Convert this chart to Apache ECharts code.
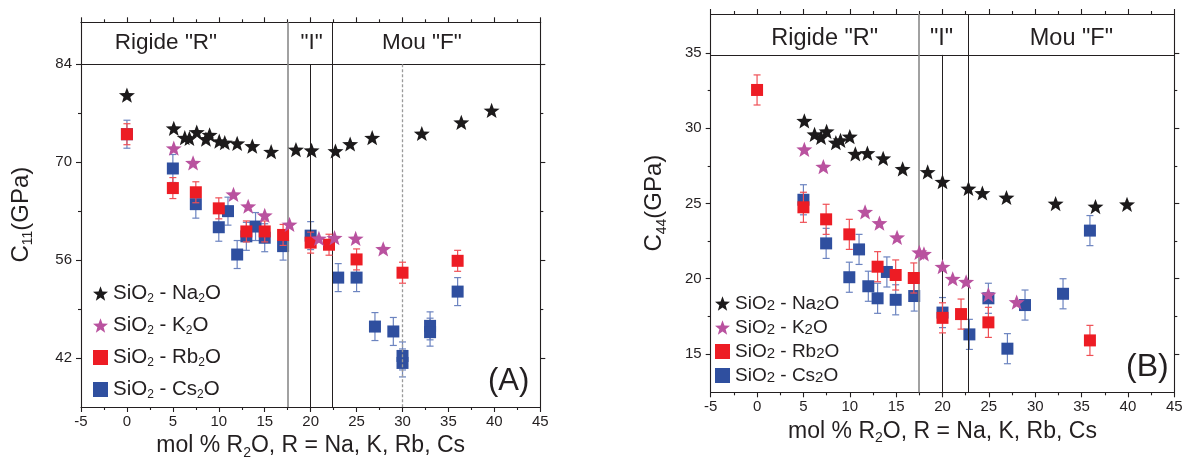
<!DOCTYPE html>
<html><head><meta charset="utf-8">
<script src="https://cdn.jsdelivr.net/npm/echarts@6/dist/echarts.min.js"></script>
<style>html,body{margin:0;padding:0;background:#fff}#c{width:1188px;height:465px}</style>
</head><body><div id="c"></div>
<script>
// ---------- DATA ----------
const seriesNames = ['SiO2 - Na2O', 'SiO2 - K2O', 'SiO2 - Rb2O', 'SiO2 - Cs2O'];
const xTickLabels = [-5, 0, 5, 10, 15, 20, 25, 30, 35, 40, 45];

// Panel A : C11 (GPa)
const naA = [[0,79.6],[5.1,74.85],[6.3,73.5],[6.8,73.4],[7.6,74.3],[8.6,73.3],[9.0,73.9],[10.05,73.0],[10.65,72.8],[12.0,72.7],[13.65,72.3],[15.7,71.5],[18.4,71.8],[20.1,71.7],[22.7,71.6],[24.3,72.6],[26.7,73.5],[32.1,74.1],[36.4,75.7],[39.7,77.4]];
const kA  = [[5.1,72.0],[7.2,69.9],[11.6,65.4],[13.2,63.7],[15.0,62.4],[17.7,61.1],[20.9,59.1],[22.6,59.2],[24.9,59.1],[27.9,57.6]];
const rbA = [[0,74.0],[5.0,66.3],[7.5,65.7],[10.0,63.4],[13.0,60.1],[15.0,60.1],[17.0,59.6],[20.0,58.5],[22.0,58.2],[25.0,56.1],[30.0,54.2],[36.0,55.9]];
const rbErrA = [1.5,1.5,1.5,1.5,1.5,1.5,1.5,1.5,1.5,1.5,1.5,1.5];
const csA = [[0,74.0],[5.0,69.1],[7.5,64.0],[10.0,60.7],[11.0,63.0],[12.0,56.8],[13.0,59.4],[14.0,60.8],[15.0,59.2],[17.0,58.0],[20.0,59.5],[23.0,53.5],[25.0,53.5],[27.0,46.5],[29.0,45.8],[30.0,42.3],[30.0,41.3],[33.0,46.6],[33.0,45.7],[36.0,51.5]];
const csErrA = [2,2,2,2,2,2,2,2,2,2,2,2,2,2,2,2,2,2,2,2];
const yTicksA = [42, 56, 70, 84];
const yMinorA = [49, 63, 77];
const headerA = 84;                 // upper limit of data area (band line)
const bordersA = [17.5, 20, 22.3, 30];  // region borders (mol %)
const regionLabelsA = ['Rigide "R"', '"I"', 'Mou "F"'];

// Panel B : C44 (GPa)
const naB = [[5.1,30.5],[6.2,29.6],[6.9,29.4],[7.5,29.8],[8.5,29.05],[9.0,29.2],[10.0,29.45],[10.6,28.3],[11.9,28.35],[13.6,28.0],[15.7,27.3],[18.4,27.1],[20.0,26.45],[22.8,26.0],[24.3,25.7],[26.9,25.4],[32.2,25.0],[36.5,24.8],[39.9,24.95]];
const kB  = [[5.1,28.6],[7.15,27.45],[11.65,24.45],[13.2,23.7],[15.1,22.75],[17.5,21.75],[18.0,21.65],[20.0,20.8],[21.1,20.0],[22.55,19.8],[24.95,18.95],[28.0,18.45]];
const rbB = [[0,32.55],[5.0,24.75],[7.45,23.95],[9.95,22.95],[13.0,20.8],[14.95,20.25],[16.9,20.05],[20.0,17.4],[22.0,17.65],[24.95,17.1],[35.9,15.9]];
const rbErrB = [1,1,1,1,1,1,1,1,1,1,1];
const csB = [[5.0,25.25],[7.45,22.35],[9.95,20.1],[11.0,21.95],[12.0,19.5],[13.0,18.7],[14.0,20.45],[14.95,18.6],[16.95,18.85],[20.0,17.75],[22.9,16.3],[24.95,18.7],[27.0,15.35],[28.9,18.25],[33.0,19.0],[35.9,23.2]];
const csErrB = [1,1,1,1,1,1,1,1,1,1,1,1,1,1,1,1];
const yTicksB = [15, 20, 25, 30, 35];
const yMinorB = [17.5, 22.5, 27.5, 32.5];
const headerB = 34.88;
const bordersB = [17.4, 20, 22.8];
const regionLabelsB = ['Rigide "R"', '"I"', 'Mou "F"'];

// ---------- STYLE ----------
const FONT = 'Liberation Sans, Arial, sans-serif';
const INK = '#231f20';
const COL = {na:'#1c1a1b', k:'#b9529f', rb:'#ed1c24', cs:'#2f4f9f'};
const ERR = {rb:'#ef4f55', cs:'#6c84c0'};
const STAR = 'path://M50,0L62.34,33.01L97.55,34.55L69.97,56.49L79.39,90.45L50,71L20.61,90.45L30.03,56.49L2.45,34.55L37.66,33.01Z';

const panels = [
  {na:naA,k:kA,rb:rbA,rbErr:rbErrA,cs:csA,csErr:csErrA,yMin:35,yMax:90,ticks:yTicksA,minor:yMinorA,header:headerA,
   borders:bordersA,labels:regionLabelsA,labelX:[4.25,20.1,32.1],labelY:87.1,
   grid:{left:81,right:647.7,top:22.3,bottom:55.7},yName:'{n|C}{s|11}{n|(GPa)}',yNameGap:46,
   lineStyles:[{color:'#8a8a8a',width:1.6,type:'solid',full:true},{color:INK,width:1,type:'solid',full:false},{color:INK,width:1,type:'solid',full:true},{color:'#9a9a9a',width:1.3,type:[3,2],full:false}]},
  {na:naB,k:kB,rb:rbB,rbErr:rbErrB,cs:csB,csErr:csErrB,yMin:12.45,yMax:37.6,ticks:yTicksB,minor:yMinorB,header:headerB,
   borders:bordersB,labels:regionLabelsB,labelX:[7.3,19.9,33.9],labelY:36.0,
   grid:{left:710.7,right:13.7,top:14,bottom:72.7},yName:'{n|C}{s|44}{n|(GPa)}',yNameGap:42,
   lineStyles:[{color:'#8a8a8a',width:1.6,type:'solid',full:true},{color:INK,width:1,type:'solid',full:false},{color:INK,width:1,type:'solid',full:true}]}
];

const axisLineStyle = {color: INK, width: 1.1};
const titleRich = {
  n: {fontSize: 23, fontFamily: FONT, color: INK, lineHeight: 28},
  s: {fontSize: 14, fontFamily: FONT, color: INK, lineHeight: 4, verticalAlign: 'bottom'}
};
const yTitleRich = {
  n: {fontSize: 24, fontFamily: FONT, color: INK, lineHeight: 28},
  s: {fontSize: 14, fontFamily: FONT, color: INK, lineHeight: 4, verticalAlign: 'bottom'}
};

const grids = [], xAxes = [], yAxes = [], series = [];
panels.forEach((p, gi) => {
  grids.push(Object.assign({containLabel:false}, p.grid));
  const xBase = {gridIndex:gi, type:'value', min:-5, max:45, interval:5,
    axisLine:{show:true, onZero:false, lineStyle:axisLineStyle},
    axisTick:{show:true, inside:false, length:5, lineStyle:axisLineStyle},
    minorTick:{show:true, splitNumber:2, length:3, lineStyle:axisLineStyle},
    splitLine:{show:false}, minorSplitLine:{show:false}};
  xAxes.push(Object.assign({}, xBase, {position:'bottom',
    axisLabel:{show:true, margin:7, fontSize:15, fontFamily:FONT, color:INK, customValues:xTickLabels},
    name:'{n|mol % R}{s|2}{n|O, R = Na, K, Rb, Cs}', nameLocation:'middle', nameGap:25,
    nameTextStyle:{rich:titleRich, verticalAlign:'top'}}));
  xAxes.push(Object.assign({}, xBase, {position:'top', axisLabel:{show:false}}));
  const yBase = {gridIndex:gi, type:'value', min:p.yMin, max:p.yMax, splitLine:{show:false}};
  yAxes.push(Object.assign({}, yBase, {position:'left',
    axisLine:{show:true, onZero:false, lineStyle:axisLineStyle},
    axisTick:{show:true, length:5, customValues:p.ticks, lineStyle:axisLineStyle},
    axisLabel:{show:true, margin:9, fontSize:15, fontFamily:FONT, color:INK, customValues:p.ticks},
    name:p.yName, nameLocation:'middle', nameGap:p.yNameGap, nameTextStyle:{rich:yTitleRich}}));
  yAxes.push(Object.assign({}, yBase, {position:'left', axisLine:{show:false, onZero:false},
    axisTick:{show:true, length:3, customValues:p.minor, lineStyle:axisLineStyle}, axisLabel:{show:false}}));
  yAxes.push(Object.assign({}, yBase, {position:'right',
    axisLine:{show:true, onZero:false, lineStyle:axisLineStyle},
    axisTick:{show:true, length:5, customValues:p.ticks, lineStyle:axisLineStyle}, axisLabel:{show:false}}));
  yAxes.push(Object.assign({}, yBase, {position:'right', axisLine:{show:false, onZero:false},
    axisTick:{show:true, length:3, customValues:p.minor, lineStyle:axisLineStyle}, axisLabel:{show:false}}));

  const xi = gi * 2, yi = gi * 4;
  const errSeries = (name, pts, errs, color, z) => ({
    name: name + ' (err)', type:'custom', xAxisIndex:xi, yAxisIndex:yi, z, silent:true,
    data: pts.map((d, i) => [d[0], d[1], errs[i]]),
    encode:{x:0, y:1},
    renderItem(params, api) {
      const x = api.value(0), y = api.value(1), e = api.value(2);
      const t = api.coord([x, y + e]), b = api.coord([x, y - e]);
      const w = 3.5, st = {stroke: color, lineWidth: 1.2};
      return {type:'group', children:[
        {type:'line', shape:{x1:t[0], y1:t[1], x2:b[0], y2:b[1]}, style:st},
        {type:'line', shape:{x1:t[0]-w, y1:t[1], x2:t[0]+w, y2:t[1]}, style:st},
        {type:'line', shape:{x1:b[0]-w, y1:b[1], x2:b[0]+w, y2:b[1]}, style:st}
      ]};
    }
  });
  const scat = (name, pts, symbol, size, color, z) => ({
    name, type:'scatter', xAxisIndex:xi, yAxisIndex:yi, z, data:pts, symbol, symbolSize:size,
    symbolKeepAspect:true, itemStyle:{color, opacity:1}, emphasis:{disabled:true}
  });
  series.push(errSeries(seriesNames[3], p.cs, p.csErr, ERR.cs, 3));
  series.push(scat(seriesNames[3], p.cs, 'rect', 12, COL.cs, 4));
  series.push(errSeries(seriesNames[2], p.rb, p.rbErr, ERR.rb, 5));
  series.push(scat(seriesNames[2], p.rb, 'rect', 12, COL.rb, 6));
  series.push(scat(seriesNames[1], p.k, STAR, 16, COL.k, 7));
  series.push(scat(seriesNames[0], p.na, STAR, 16, COL.na, 8));

  // region borders + header band line + region labels
  const lines = [[{coord:[-5, p.header], lineStyle:{color:INK, width:1.1, type:'solid'}}, {coord:[45, p.header]}]];
  p.borders.forEach((b, i) => {
    const ls = p.lineStyles[i];
    lines.push([{coord:[b, ls.full ? p.yMax : p.header], lineStyle:{color:ls.color, width:ls.width, type:ls.type}}, {coord:[b, p.yMin]}]);
  });
  series.push({type:'scatter', xAxisIndex:xi, yAxisIndex:yi, z:2, data:[], silent:true,
    markLine:{silent:true, symbol:['none','none'], label:{show:false}, data:lines, animation:false},
    markPoint:{silent:true, symbol:'circle', symbolSize:0, animation:false,
      label:{show:true, position:'inside', fontSize: gi===0 ? 22.5 : 23.5, fontFamily:FONT, color:INK, formatter:(q)=>q.name},
      data:p.labels.map((t, i) => ({name:t, coord:[p.labelX[i], p.labelY]}))}
  });
});

const legRich = (fs, sfs, lh, slh) => ({
  n:{fontSize:fs, fontFamily:FONT, color:INK, lineHeight:lh},
  s:{fontSize:sfs, fontFamily:FONT, color:INK, lineHeight:slh, verticalAlign:'bottom'}
});
const legFmt = (name) => {
  const m = name.match(/SiO2 - (\w+)2O/);
  return '{n|SiO}{s|2}{n| - ' + m[1] + '}{s|2}{n|O}';
};
const legColors = [COL.na, COL.k, COL.rb, COL.cs];
const legendItems = (names) => names.map((n, i) => ({name:n, icon: i < 2 ? STAR : 'rect', itemStyle:{color:legColors[i]}}));

const option = {
  animation:false,
  backgroundColor:'#fff',
  grid:grids, xAxis:xAxes, yAxis:yAxes, series,
  legend:[
    {data:legendItems(seriesNames), orient:'vertical', left:88, top:278, itemWidth:15, itemHeight:15, itemGap:10.5,
     selectedMode:false, formatter:legFmt, textStyle:{rich:legRich(20.5, 12, 22, 3)}},
    {data:legendItems(seriesNames), orient:'vertical', left:710, top:289, itemWidth:15, itemHeight:15, itemGap:4.5,
     selectedMode:false, formatter:legFmt, textStyle:{rich:legRich(19, 15, 20, 10)}}
  ],
  graphic:[
    {type:'text', left:488, top:366, style:{text:'(A)', fontSize:31, fontFamily:FONT, fill:INK}},
    {type:'text', left:1126, top:351, style:{text:'(B)', fontSize:32, fontFamily:FONT, fill:INK}}
  ]
};
const chart = echarts.init(document.getElementById('c'), null, {renderer:'canvas'});
chart.setOption(option);
</script></body></html>
